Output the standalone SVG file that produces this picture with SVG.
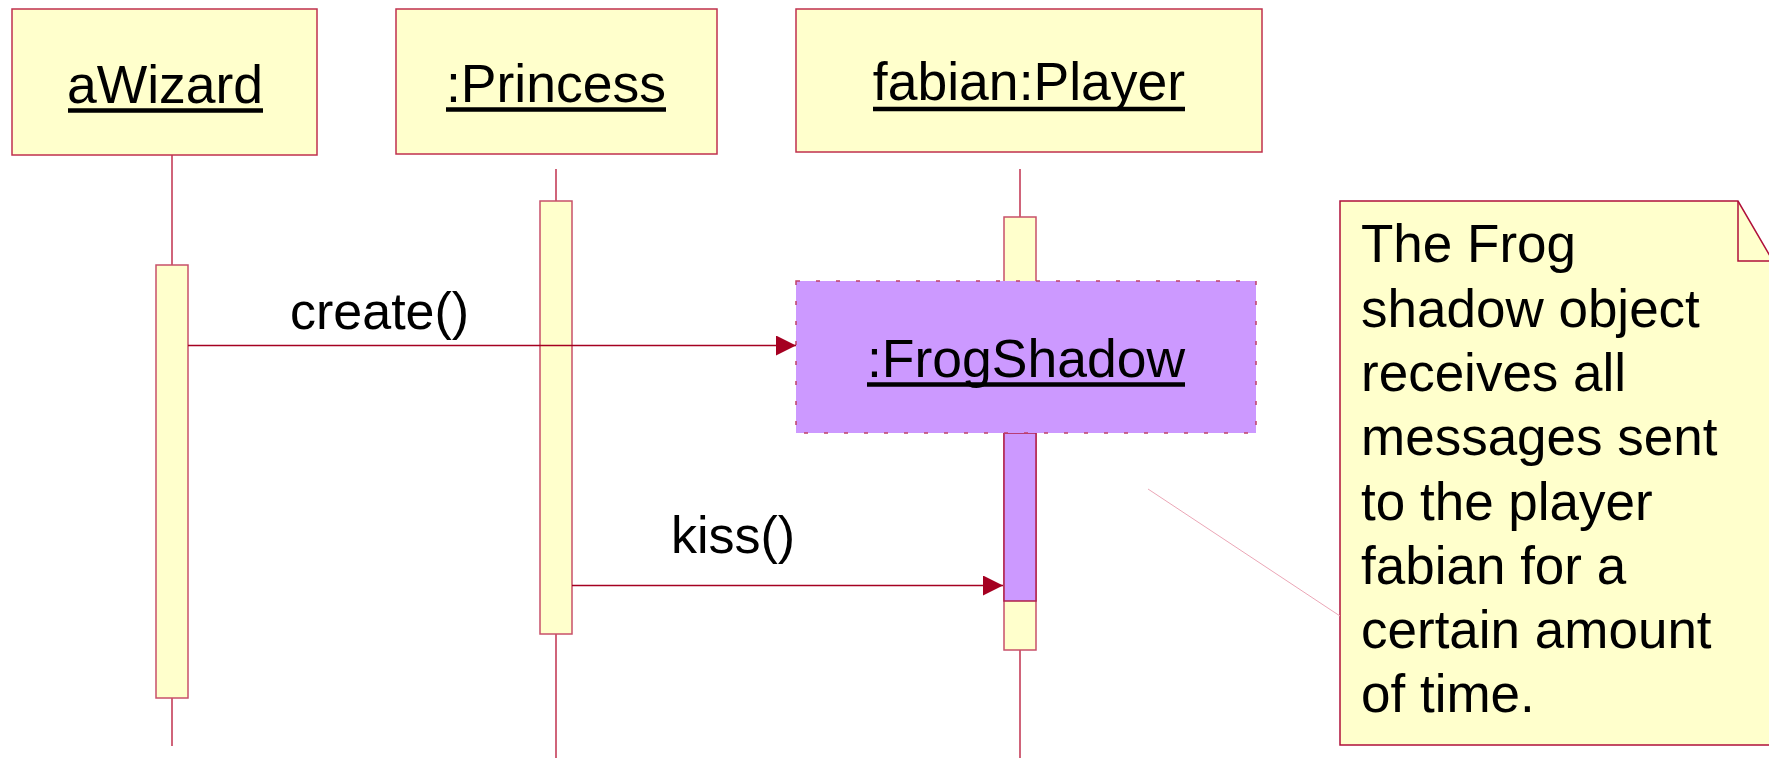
<svg xmlns="http://www.w3.org/2000/svg" width="1769" height="758" viewBox="0 0 1769 758">
  <defs>
    <marker id="arrowhead" markerWidth="20" markerHeight="20" refX="20" refY="10" orient="auto" markerUnits="userSpaceOnUse">
      <path d="M0,0 L20,10 L0,20 Z" fill="#A50021"/>
    </marker>
    <style>
      .obj { fill: #FFFFCC; stroke: #C0304E; stroke-width: 1.5; }
      .act { fill: #FFFFCC; stroke: #C8506A; stroke-width: 1.5; }
      .shadow { fill: #CC99FF; }
      .shadow-border { fill: none; stroke: #C0406A; stroke-width: 1.5; stroke-dasharray: 4 16; }
      .life { stroke: #C0304E; stroke-width: 1.5; fill: none; }
      .msg { stroke: #A50021; stroke-width: 1.5; fill: none; }
      .title { font-family: "Liberation Sans", Arial, sans-serif; font-size: 53.5px; fill: #000; text-anchor: middle; }
      .label { font-family: "Liberation Sans", Arial, sans-serif; font-size: 52px; fill: #000; }
      .note-text { font-family: "Liberation Sans", Arial, sans-serif; font-size: 53px; fill: #000; }
      .ul { stroke: #000; stroke-width: 4.5; }
    </style>
  </defs>

  <rect width="1769" height="758" fill="#FFFFFF"/>

  <!-- lifeline: aWizard -->
  <g id="aWizard">
    <line class="life" x1="172" y1="155" x2="172" y2="265"/>
    <line class="life" x1="172" y1="698" x2="172" y2="746"/>
    <rect class="obj" x="12" y="9" width="305" height="146"/>
    <text class="title" x="165" y="103">aWizard</text>
    <line class="ul" x1="68" y1="110.5" x2="263" y2="110.5"/>
    <rect class="act" x="156" y="265" width="32" height="433"/>
  </g>

  <!-- lifeline: :Princess -->
  <g id="princess">
    <line class="life" x1="556" y1="169" x2="556" y2="201"/>
    <line class="life" x1="556" y1="634" x2="556" y2="758"/>
    <rect class="obj" x="396" y="9" width="321" height="145"/>
    <text class="title" x="556" y="102">:Princess</text>
    <line class="ul" x1="446" y1="109.5" x2="666" y2="109.5"/>
    <rect class="act" x="540" y="201" width="32" height="433"/>
  </g>

  <!-- lifeline: fabian:Player -->
  <g id="player">
    <line class="life" x1="1020" y1="169" x2="1020" y2="217"/>
    <line class="life" x1="1020" y1="650" x2="1020" y2="758"/>
    <rect class="obj" x="796" y="9" width="466" height="143"/>
    <text class="title" x="1029" y="100">fabian:Player</text>
    <line class="ul" x1="873" y1="109" x2="1185" y2="109"/>
    <rect class="act" x="1004" y="217" width="32" height="433"/>
  </g>

  <!-- shadow object overlaying the player activation -->
  <g id="frogShadow">
    <rect class="shadow" x="1004" y="433" width="32" height="168" stroke="#B0204A" stroke-width="1.5"/>
    <rect class="shadow" x="796" y="281" width="460" height="152"/>
    <rect class="shadow-border" x="796" y="281" width="460" height="152"/>
    <text class="title" x="1026" y="377">:FrogShadow</text>
    <line class="ul" x1="867" y1="384.5" x2="1185" y2="384.5"/>
  </g>

  <!-- comment note -->
  <g id="note">
    <path d="M1340,201 L1738,201 L1773,261 L1773,745 L1340,745 Z" fill="#FFFFCC" stroke="#B0103A" stroke-width="1.5"/>
    <path d="M1738,201 L1738,261 L1773,261" fill="none" stroke="#B0103A" stroke-width="1.5"/>
    <text class="note-text">
      <tspan x="1361" y="262">The Frog</tspan>
      <tspan x="1361" y="326.5">shadow object</tspan>
      <tspan x="1361" y="391">receives all</tspan>
      <tspan x="1361" y="455">messages sent</tspan>
      <tspan x="1361" y="519.5">to the player</tspan>
      <tspan x="1361" y="584">fabian for a</tspan>
      <tspan x="1361" y="648">certain amount</tspan>
      <tspan x="1361" y="712">of time.</tspan>
    </text>
  </g>

  <!-- messages and note anchor -->
  <g id="connectors">
    <line class="msg" x1="188" y1="345.5" x2="796" y2="345.5" marker-end="url(#arrowhead)"/>
    <text class="label" x="290" y="329">create()</text>
    <line class="msg" x1="572" y1="585.5" x2="1003" y2="585.5" marker-end="url(#arrowhead)"/>
    <text class="label" x="671" y="553">kiss()</text>
    <line x1="1148" y1="489" x2="1340" y2="616" stroke="#EBA6B6" stroke-width="1"/>
  </g>
</svg>
